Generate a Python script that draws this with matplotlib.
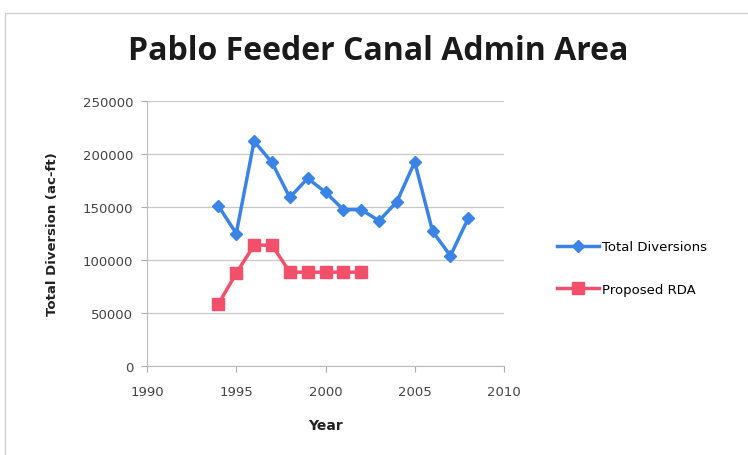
import matplotlib.pyplot as plt
from matplotlib.patches import Rectangle

years = [1994, 1995, 1996, 1997, 1998, 1999, 2000, 2001, 2002,
         2003, 2004, 2005, 2006, 2007, 2008]
total_diversions = [151000, 125000, 212000, 192000, 159000, 177000, 164000,
                    147500, 147500, 137000, 155000, 192500, 127000, 104000, 139500]

rda_years = [1994, 1995, 1996, 1997, 1998, 1999, 2000, 2001, 2002]
proposed_rda = [58500, 87500, 114000, 114000, 88500, 88500, 88500, 88500, 88500]

BLUE = "#3A84E6"
RED = "#F2506A"
GRID = "#C8C8C8"

fig = plt.figure(figsize=(7.48, 4.56), dpi=100)
fig.patch.set_facecolor("white")

# outer chart frame
fig.patches.append(Rectangle((5 / 748, -0.1), 1.2, (456 - 14) / 456 + 0.1,
                             transform=fig.transFigure, fill=False,
                             edgecolor="#D0D0D0", linewidth=1.0))

ax = fig.add_axes([147 / 748, 1 - 367 / 456, (504 - 147) / 748, (367 - 102) / 456])

ax.plot(years, total_diversions, color=BLUE, linewidth=2.5, marker="D",
        markersize=6.5, label="Total Diversions")
ax.plot(rda_years, proposed_rda, color=RED, linewidth=2.5, marker="s",
        markersize=8.5, label="Proposed RDA")

ax.set_xlim(1990, 2010)
ax.set_ylim(0, 250000)
ax.set_xticks([1990, 1995, 2000, 2005, 2010])
ax.set_yticks(range(0, 250001, 50000))
ax.yaxis.grid(True, color=GRID, linewidth=0.9)
ax.set_axisbelow(True)

for side in ("top", "right"):
    ax.spines[side].set_visible(False)
for side in ("left", "bottom"):
    ax.spines[side].set_color("#BBBBBB")
ax.tick_params(axis="both", colors="#AAAAAA", labelcolor="#444444",
               labelsize=9.5, length=4, direction="out")
ax.tick_params(axis="x", pad=10)
ax.tick_params(axis="y", pad=6)

ax.set_xlabel("Year", fontsize=10, fontweight="bold", color="#222222", labelpad=14)
ax.set_ylabel("Total Diversion (ac-ft)", fontsize=9.5, fontweight="bold",
              color="#222222", labelpad=17)

fig.text(0.505, 1 - 52 / 456, "Pablo Feeder Canal Admin Area", ha="center",
         va="center", fontsize=23, fontweight="bold", color="#1A1A1A",
         family="Open Sans")

fig.legend(loc="center left", bbox_to_anchor=(545 / 748, 1 - 269 / 456),
           frameon=False, fontsize=9.5, handlelength=3.2, labelspacing=2.2,
           handletextpad=0.2)

fig.savefig("out.png", dpi=100)
